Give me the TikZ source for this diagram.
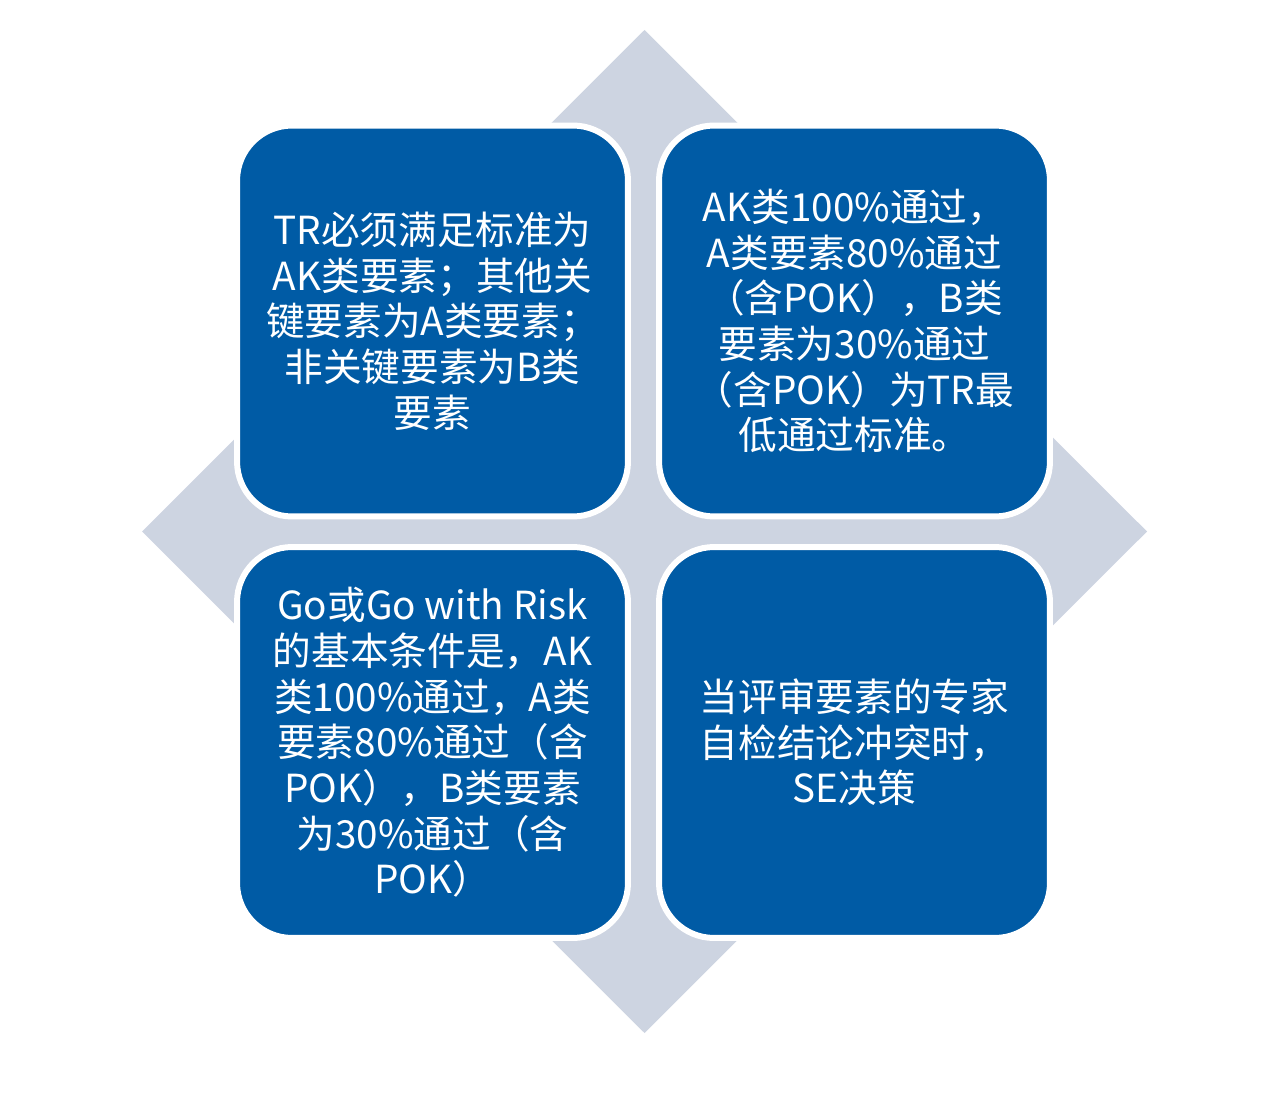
\documentclass[tikz,border=0pt]{standalone}
\usepackage{fontspec}
\setmainfont{Noto Sans CJK SC}
\usepackage{tikz}
\usetikzlibrary{calc}
\definecolor{quadblue}{RGB}{0,91,165}
\definecolor{diamondgray}{RGB}{205,212,225}
\tikzset{
	quad/.style={rectangle, rounded corners=1.1cm, minimum width=7.82cm, minimum height=7.82cm,
		fill=quadblue, draw=white, line width=1.2mm, text=white, align=center,
		font=\fontsize{22}{26}\selectfont, inner sep=0pt},
}

\begin{document}
\begin{tikzpicture}[x=0.02cm, y=-0.02cm]
		%%%%% START %%%%%
		\useasboundingbox (0, 0) rectangle (1277, 1097);
		
		\fill[diamondgray] (644.5, 30) -- (1147, 531.5) -- (644.5, 1033) -- (142, 531.5) -- cycle;
		
		\node[quad] (tl) at (432.5, 321) {TR必须满足标准为\\AK类要素；其他关\\键要素为A类要素；\\非关键要素为B类\\要素};
		\node[quad] (tr) at (854.5, 321) {AK类100\%通过，\\A类要素80\%通过\\（含POK），B类\\要素为30\%通过\\（含POK）为TR最\\低通过标准。};
		
		\node[quad] (bl) at (432.5, 742.5) {Go或Go with Risk\\的基本条件是，AK\\类100\%通过，A类\\要素80\%通过（含\\POK），B类要素\\为30\%通过（含\\POK）};
		\node[quad] (br) at (854.5, 742.5) {当评审要素的专家\\自检结论冲突时，\\SE决策};
		%%%%% END %%%%%
	\end{tikzpicture}
\end{document}
